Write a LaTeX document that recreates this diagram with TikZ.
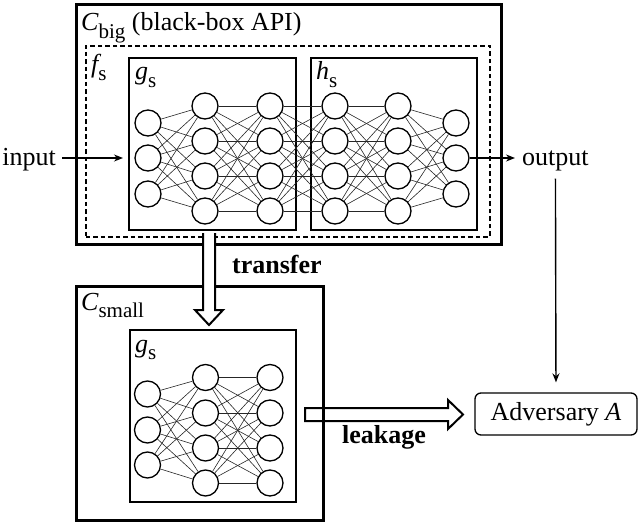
\documentclass[tikz,border=0pt]{standalone}
\usepackage{fontspec}
\setmainfont{Liberation Serif}
\usetikzlibrary{arrows.meta}
\newcommand{\mysub}[1]{\raisebox{-0.3em}{\fontsize{21}{21}\selectfont #1}}
\begin{document}
\begin{tikzpicture}[x=1pt,y=-1pt,
  neuron/.style={circle,draw,line width=1.3pt,minimum size=26pt,inner sep=0pt,fill=white},
  conn/.style={line width=0.6pt,draw=black!85},
  bigbox/.style={draw,line width=3pt},
  netbox/.style={draw,line width=1.8pt},
  dashbox/.style={draw,line width=1.7pt,dash pattern=on 4.5pt off 3pt},
  lbl/.style={font=\fontsize{26}{30}\selectfont,inner sep=0pt},
  arr/.style={line width=1.4pt,-{Stealth[length=9pt,width=7pt]}},
  hollow/.style={draw,line width=2pt,fill=white,line join=miter}]
\useasboundingbox (0,0) rectangle (640,524);

% C_big
\node[bigbox,minimum width=425pt,minimum height=240pt,anchor=north west,inner sep=0pt] (cbig) at (75,3) {};
\node[dashbox,minimum width=404pt,minimum height=191pt,anchor=north west,inner sep=0pt] (fs) at (85,45) {};
\node[netbox,minimum width=167pt,minimum height=172pt,anchor=north west,inner sep=0pt] (gbig) at (128,57) {};
\node[netbox,minimum width=166pt,minimum height=172pt,anchor=north west,inner sep=0pt] (hbig) at (310,57) {};
\node[lbl,anchor=base west] (cbiglbl) at (81,31) {{\itshape C}\mysub{big} (black-box API)};
\node[lbl,anchor=base west] (fslbl) at (91,73) {{\itshape f}\mysub{s}};
\node[lbl,anchor=base west] (gbiglbl) at (135,80) {{\itshape g}\mysub{s}};
\node[lbl,anchor=base west] (hbiglbl) at (316,80) {{\itshape h}\mysub{s}};

% big network neurons
\foreach \y [count=\i] in {123,158,194} {\node[neuron] (a\i) at (148,\y) {};}
\foreach \y [count=\i] in {106,141,176,211} {\node[neuron] (b\i) at (205,\y) {};}
\foreach \y [count=\i] in {106,141,176,211} {\node[neuron] (c\i) at (270,\y) {};}
\foreach \y [count=\i] in {106,141,176,211} {\node[neuron] (d\i) at (335,\y) {};}
\foreach \y [count=\i] in {106,141,176,211} {\node[neuron] (e\i) at (398,\y) {};}
\foreach \y [count=\i] in {123,158,194} {\node[neuron] (f\i) at (456,\y) {};}
\foreach \i in {1,2,3} \foreach \j in {1,2,3,4} {\draw[conn] (a\i) -- (b\j);}
\foreach \i in {1,2,3,4} \foreach \j in {1,2,3,4} {\draw[conn] (b\i) -- (c\j); \draw[conn] (c\i) -- (d\j); \draw[conn] (d\i) -- (e\j);}
\foreach \i in {1,2,3,4} \foreach \j in {1,2,3} {\draw[conn] (e\i) -- (f\j);}

% input / output
\node[lbl,anchor=base east] (input) at (56,166) {input};
\coordinate (inA) at (62,158);
\coordinate (inB) at (123,158);
\draw[arr] (inA) -- (inB);
\node[lbl,anchor=base west] (output) at (522,166) {output};
\draw[arr,shorten >=7pt] (f2) -- (output.west |- f2);

% Adversary
\node[draw,line width=1.3pt,rounded corners=6pt,minimum width=162pt,minimum height=42pt,inner sep=0pt,font=\fontsize{26}{30}\selectfont] (adv) at (556,414) {Adversary {\itshape A}};
\draw[arr,shorten <=7pt,shorten >=10pt] (output.south) -- (adv.north);

% leakage arrow (behind C_small border)
\draw[hollow] (305,408) -- (448,408) -- (448,400) -- (463,414.5) -- (448,429) -- (448,421) -- (305,421) -- cycle;
\node[lbl,anchor=base west,font=\fontsize{26}{30}\selectfont\bfseries] (leak) at (342,443) {leakage};

% C_small
\node[bigbox,minimum width=247pt,minimum height=234pt,anchor=north west,inner sep=0pt] (csmall) at (75,285) {};
\node[netbox,minimum width=166pt,minimum height=172pt,anchor=north west,inner sep=0pt] (gsmall) at (129,329) {};
\node[lbl,anchor=base west] (csmalllbl) at (81,310) {{\itshape C}\mysub{small}};
\node[lbl,anchor=base west] (gsmalllbl) at (135,352) {{\itshape g}\mysub{s}};
\foreach \y [count=\i] in {394,430,465} {\node[neuron] (p\i) at (147.5,\y) {};}
\foreach \y [count=\i] in {377.5,413,448,483} {\node[neuron] (q\i) at (205.5,\y) {};}
\foreach \y [count=\i] in {377.5,413,448,483} {\node[neuron] (r\i) at (270,\y) {};}
\foreach \i in {1,2,3} \foreach \j in {1,2,3,4} {\draw[conn] (p\i) -- (q\j);}
\foreach \i in {1,2,3,4} \foreach \j in {1,2,3,4} {\draw[conn] (q\i) -- (r\j);}

% transfer arrow (on top)
\fill[white] (203,233) rectangle (215,310);
\draw[hollow] (203,233) -- (203,310) -- (195,310) -- (209,325) -- (223,310) -- (215,310) -- (215,233);
\node[lbl,anchor=base west,font=\fontsize{26}{30}\selectfont\bfseries] (transfer) at (232,273) {transfer};
\end{tikzpicture}
\end{document}
